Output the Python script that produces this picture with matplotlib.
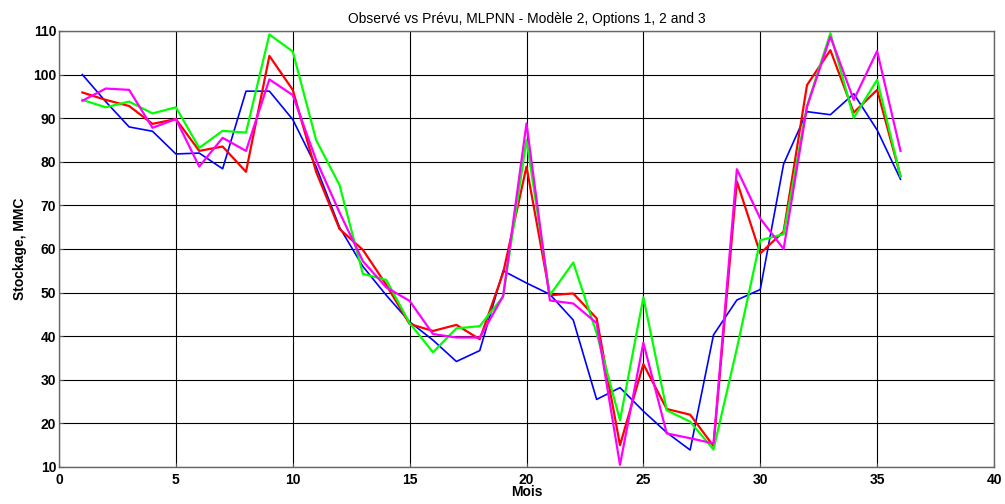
import numpy as np
import matplotlib
matplotlib.use("Agg")
import matplotlib.pyplot as plt

plt.rcParams['font.family'] = ['Liberation Sans', 'DejaVu Sans']

# Monthly storage, observed vs predicted (options 1, 2 and 3)
months = list(range(1, 37))
observed = [100, 93.8, 88, 87, 81.8, 82, 78.4, 96.2, 96.2, 89.7,
            78.9, 65, 56, 49.4, 43.3, 39.1, 34.2, 36.7, 55, 52.2,
            49.6, 43.7, 25.5, 28.2, 22.8, 17.9, 13.9, 40.3, 48.3, 50.7,
            79.5, 91.5, 90.8, 95.6, 87.3, 76]
option1 = [95.9, 94.2, 92.8, 88.7, 89.8, 82.5, 83.5, 77.7, 104.3, 96.5,
           77.7, 64.6, 59.8, 51.8, 42.8, 41.2, 42.6, 39.3, 54.5, 78.9,
           49.4, 49.8, 44.1, 15, 33.6, 23.3, 22, 14.8, 75.5, 59,
           64, 97.6, 105.6, 91.3, 96.5, 76.7]
option2 = [94.2, 92.5, 93.8, 91.1, 92.5, 83.2, 87.1, 86.7, 109.2, 105.3,
           85, 74.7, 54.3, 52.9, 43, 36.3, 41.8, 42.3, 49.1, 85,
           49.4, 56.9, 40.7, 20.7, 48.9, 23, 20.4, 14, 37.2, 62,
           63.4, 92.8, 109.5, 90.1, 98.8, 76.6]
option3 = [94, 96.8, 96.5, 87.8, 89.8, 78.9, 85.5, 82.5, 98.9, 95.3,
           80.4, 68.4, 57.2, 51.2, 48.1, 40.5, 39.7, 39.7, 49.2, 88.8,
           48.2, 47.5, 43, 10.5, 38.5, 17.7, 16.6, 15.4, 78.3, 67,
           60, 92.6, 108.7, 94.2, 105.4, 82.5]

xticks = list(range(0, 41, 5))
yticks = list(range(10, 111, 10))

fig = plt.figure(figsize=(10.05, 5.04), dpi=100)
ax = fig.add_axes([59 / 1005, 1 - 467 / 504, 935 / 1005, 436 / 504])

ax.plot(months, observed, color='#0000ff', lw=1.2)
ax.plot(months, option1, color='#ff0000', lw=1.6)
ax.plot(months, option2, color='#00ff00', lw=1.6)
ax.plot(months, option3, color='#ff00ff', lw=1.6)

ax.set_xlim(0, 40)
ax.set_ylim(10, 110)
ax.set_xticks(xticks)
ax.set_yticks(yticks)
ax.grid(True, color='black', lw=0.8, ls='-')
ax.set_axisbelow(True)
ax.tick_params(direction='in', length=3, color='#555555', labelsize=10, pad=2)
ax.tick_params(axis='x', pad=4)
for lab in ax.get_xticklabels() + ax.get_yticklabels():
    lab.set_fontweight('bold')
for s in ax.spines.values():
    s.set_color('#666666')
    s.set_linewidth(1.0)

ax.set_title('Observé vs Prévu, MLPNN - Modèle 2, Options 1, 2 and 3', fontsize=10, pad=6)
ax.set_xlabel('Mois', fontsize=10, fontweight='bold', labelpad=-1)
ax.set_ylabel('Stockage, MMC', fontsize=10, fontweight='bold', labelpad=4)

fig.savefig('out.png', dpi=100)
